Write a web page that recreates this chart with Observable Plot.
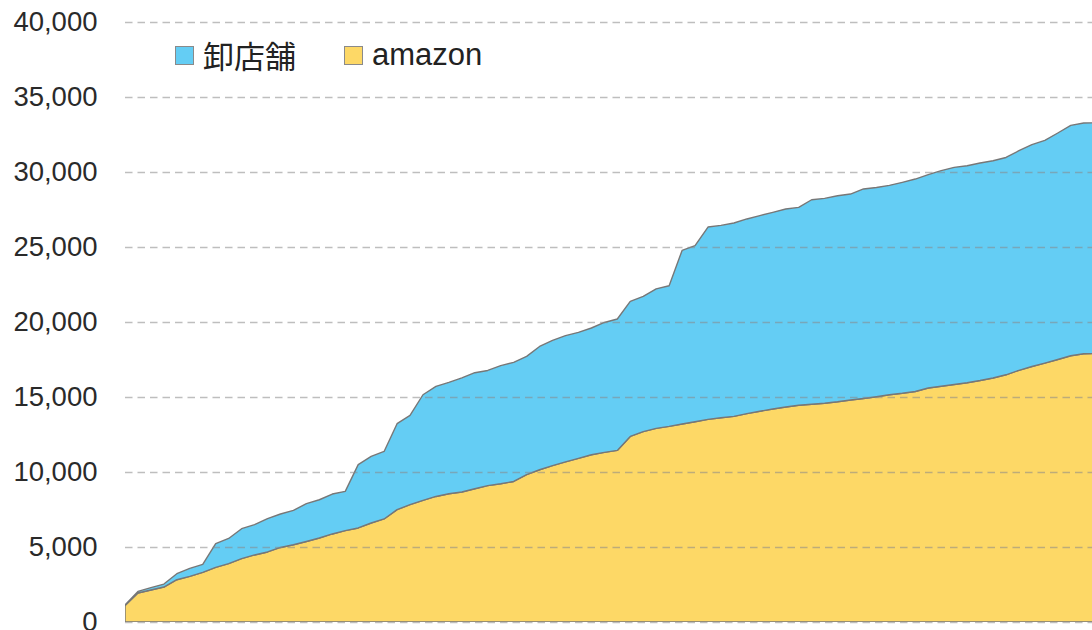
<!DOCTYPE html>
<html><head><meta charset="utf-8">
<script src="https://cdn.jsdelivr.net/npm/d3@7"></script>
<script src="https://cdn.jsdelivr.net/npm/@observablehq/plot@0.6"></script>
<style>
html,body{margin:0;padding:0;background:#fff;overflow:hidden;}
#wrap{position:relative;width:1092px;height:630px;}
.legend{position:absolute;left:175px;top:36px;display:flex;align-items:center;font-family:"Liberation Sans",Arial,"Noto Sans CJK JP",sans-serif;font-size:31px;color:#222;line-height:38px;}
.item{display:flex;align-items:center;margin-right:48px;}
.sw{width:17px;height:17px;border:1px solid #8a8a8a;margin-right:9px;}
.cjk{font-family:"Noto Sans CJK JP",sans-serif;}
</style></head>
<body><div id="wrap"></div>
<script>
const seriesNames = ["卸店舗", "amazon"];
const seriesColors = ["#64cdf4", "#fdd866"];
const yTicks = [0, 5000, 10000, 15000, 20000, 25000, 30000, 35000, 40000];
const amazon = [1100,1930,2130,2330,2820,3040,3310,3640,3890,4220,4470,4670,4970,5150,5370,5600,5870,6090,6270,6600,
  6870,7490,7820,8110,8370,8550,8670,8880,9090,9220,9370,9820,10150,10420,10670,10910,11150,11310,11440,12370,
  12690,12910,13040,13200,13350,13510,13620,13710,13890,14050,14200,14330,14450,14520,14580,14680,14800,14900,15020,15150,
  15250,15370,15600,15720,15830,15950,16100,16270,16480,16780,17030,17260,17500,17750,17880,17900];
const shop = [30,110,160,200,400,530,530,1580,1680,2000,2020,2220,2230,2290,2520,2550,2660,2620,4220,4440,
  4500,5730,5950,7040,7340,7420,7600,7740,7680,7870,7940,7890,8220,8350,8420,8400,8450,8660,8760,9000,
  9020,9300,9380,11570,11740,12820,12820,12890,12980,13040,13110,13200,13190,13630,13660,13740,13730,13970,13950,13960,
  14060,14160,14220,14370,14480,14470,14500,14480,14490,14640,14790,14850,15100,15360,15390,15380];

const data = [];
amazon.forEach((v, i) => data.push({i, series: "amazon", value: v}));
shop.forEach((v, i) => data.push({i, series: "卸店舗", value: v}));

const chart = Plot.plot({
  width: 1092, height: 630,
  marginLeft: 125, marginRight: 0, marginTop: 22, marginBottom: 8,
  style: {fontFamily: "'Liberation Sans', Arial, sans-serif", fontSize: "27.5px", color: "#2a2a2a", background: "#fff", overflow: "visible"},
  x: {domain: [0, 74.64], axis: null},
  y: {domain: [0, 40000], ticks: yTicks, tickFormat: d3.format(","), tickSize: 0, tickPadding: 28, label: null},
  color: {domain: seriesNames, range: seriesColors},
  marks: [
    Plot.areaY(data, {x: "i", y: "value", fill: "series", order: ["amazon", "卸店舗"], stroke: "#777", strokeWidth: 1.4, clip: true}),
    Plot.ruleY(yTicks, {stroke: "#888", strokeOpacity: 0.55, strokeWidth: 1.3, strokeDasharray: "7.5,5"})
  ]
});
const wrap = document.getElementById("wrap");
wrap.appendChild(chart);

const legend = document.createElement("div");
legend.className = "legend";
seriesNames.forEach((name, k) => {
  const item = document.createElement("div");
  item.className = "item";
  const sw = document.createElement("div");
  sw.className = "sw";
  sw.style.background = seriesColors[k];
  const t = document.createElement("span");
  t.textContent = name;
  if (k === 0) t.className = "cjk";
  item.appendChild(sw); item.appendChild(t);
  legend.appendChild(item);
});
wrap.appendChild(legend);
</script>
</body></html>
